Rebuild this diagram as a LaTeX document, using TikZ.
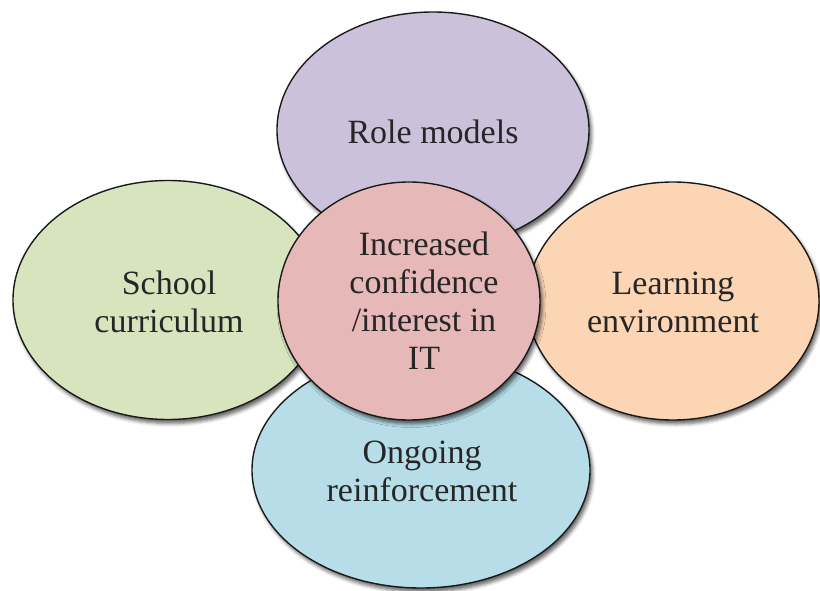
\documentclass[tikz,border=0pt]{standalone}
\usepackage{fontspec}
\setmainfont{Liberation Serif}
\usetikzlibrary{shapes.geometric,shadows.blur}
\definecolor{cTop}{HTML}{CCC1DA}
\definecolor{cLeft}{HTML}{D7E4BD}
\definecolor{cRight}{HTML}{FCD5B5}
\definecolor{cBottom}{HTML}{B7DEE8}
\definecolor{cCenter}{HTML}{E6B9B8}
\definecolor{cEdge}{HTML}{1A1A1A}
\definecolor{cText}{HTML}{262626}
\tikzset{
  petal/.style={ellipse, draw=cEdge, line width=1.4pt, inner sep=0pt,
    blur shadow={shadow xshift=2.5pt, shadow yshift=-4pt, shadow blur radius=3.5pt, shadow opacity=60}},
  lbl/.style={align=center, text=cText, font=\fontsize{34}{38}\selectfont}
}
\begin{document}
\begin{tikzpicture}[x=1pt,y=-1pt]
\useasboundingbox (0,0) rectangle (820,591);
\node[petal, fill=cTop, minimum width=312pt, minimum height=236pt] (top) at (433,130) {};
\node[petal, fill=cLeft, minimum width=310pt, minimum height=239pt] (left) at (168,300) {};
\node[petal, fill=cRight, minimum width=292pt, minimum height=238pt] (right) at (673,301) {};
\node[petal, fill=cBottom, minimum width=338pt, minimum height=236pt] (bottom) at (421,470) {};
\node[petal, fill=cCenter, minimum width=262pt, minimum height=238pt] (center) at (409,301) {};
\node[lbl] (ttop) at (433,132) {Role models};
\node[lbl] (tleft) at (169,302) {School\\curriculum};
\node[lbl] (tright) at (673,302) {Learning\\environment};
\node[lbl] (tbottom) at (422,471) {Ongoing\\reinforcement};
\node[lbl] (tcenter) at (424,301) {Increased\\confidence\\/interest in\\IT};
\end{tikzpicture}
\end{document}
